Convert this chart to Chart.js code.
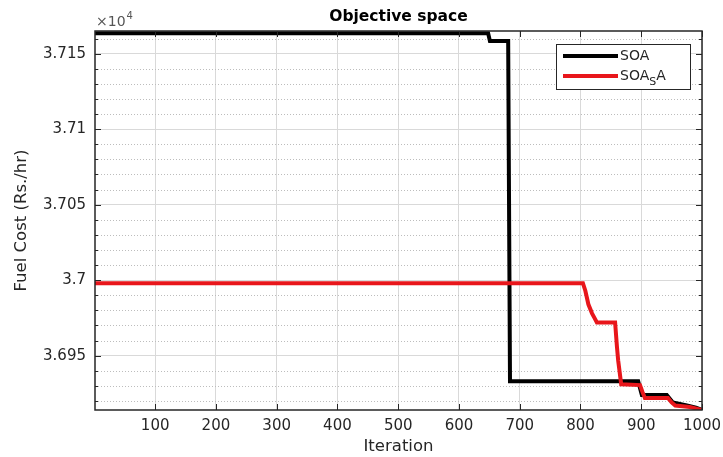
<!DOCTYPE html>
<html>
<head>
<meta charset="utf-8">
<script src="https://cdn.jsdelivr.net/npm/chart.js@4.4.0/dist/chart.umd.min.js"></script>
<style>
  html, body { margin: 0; padding: 0; background: #fff; }
  #wrap { width: 723px; height: 457px; }
</style>
</head>
<body>
<div id="wrap"><canvas id="grafico" width="723" height="457"></canvas></div>
<script>
// dados (custo em Rs./hr)
const iterSOA = [1, 648, 651, 681, 684, 895, 901, 942, 952, 975, 990, 1000];
const custoSOA = [37163.5, 37163.5, 37158.3, 37158.3, 36933, 36933, 36924, 36924, 36919, 36917, 36915.5, 36914];

const iterSOASA = [1, 804, 808, 813, 819, 823, 827, 857, 860, 862, 867, 898, 902, 906, 944, 950, 956, 980, 1000];
const custoSOASA = [36998, 36998, 36993, 36984, 36978, 36975, 36972, 36972, 36956, 36947, 36931, 36930.5, 36926, 36922, 36922, 36919, 36917, 36916, 36914];

const xTicks = [100, 200, 300, 400, 500, 600, 700, 800, 900, 1000];
const yTicks = [36950, 37000, 37050, 37100, 37150];
const yMin = 36914, yMax = 37165;
const passoMenor = 10;

const titulo = 'Objective space';
const rotuloX = 'Iteration';
const rotuloY = 'Fuel Cost (Rs./hr)';

const corEixo = '#262626';
const fonte = '"DejaVu Sans", sans-serif';

function pontos(xs, ys) {
  return xs.map((x, i) => ({ x: x, y: ys[i] }));
}

// grade menor pontilhada + moldura, marcas, textos e legenda no estilo MATLAB
const estiloMatlab = {
  id: 'estiloMatlab',
  beforeDatasetsDraw(chart) {
    const { ctx, chartArea: a, scales } = chart;
    ctx.save();
    ctx.strokeStyle = '#bdbdbd';
    ctx.lineWidth = 1;
    ctx.setLineDash([1, 2]);
    for (let v = Math.ceil(yMin / passoMenor) * passoMenor; v <= yMax; v += passoMenor) {
      if (v % 50 === 0) continue;
      const y = Math.round(scales.y.getPixelForValue(v)) + 0.5;
      ctx.beginPath();
      ctx.moveTo(a.left, y);
      ctx.lineTo(a.right, y);
      ctx.stroke();
    }
    ctx.restore();
  },
  afterDatasetsDraw(chart) {
    const { ctx, chartArea: a, scales } = chart;
    ctx.save();

    // marcas internas
    ctx.strokeStyle = corEixo;
    ctx.lineWidth = 1;
    ctx.beginPath();
    xTicks.forEach(v => {
      const x = Math.round(scales.x.getPixelForValue(v)) + 0.5;
      ctx.moveTo(x, a.bottom); ctx.lineTo(x, a.bottom - 6);
      ctx.moveTo(x, a.top); ctx.lineTo(x, a.top + 6);
    });
    for (let v = Math.ceil(yMin / passoMenor) * passoMenor; v <= yMax; v += passoMenor) {
      const y = Math.round(scales.y.getPixelForValue(v)) + 0.5;
      const len = v % 50 === 0 ? 6 : 3;
      ctx.moveTo(a.left, y); ctx.lineTo(a.left + len, y);
      ctx.moveTo(a.right, y); ctx.lineTo(a.right - len, y);
    }
    ctx.stroke();

    // moldura
    ctx.lineWidth = 1.5;
    ctx.strokeRect(a.left, a.top, a.right - a.left, a.bottom - a.top);

    // título
    ctx.fillStyle = '#000';
    ctx.font = 'bold 15.5px ' + fonte;
    ctx.textAlign = 'center';
    ctx.textBaseline = 'middle';
    ctx.fillText(titulo, (a.left + a.right) / 2, 17);

    // multiplicador
    ctx.fillStyle = '#555';
    ctx.textAlign = 'left';
    ctx.font = '14px ' + fonte;
    ctx.fillText('\u00d710', a.left + 1, 22);
    const w = ctx.measureText('\u00d710').width;
    ctx.font = '10px ' + fonte;
    ctx.fillText('4', a.left + 2 + w, 16);

    // rótulos dos eixos
    ctx.fillStyle = corEixo;
    ctx.font = '16.5px ' + fonte;
    ctx.textAlign = 'center';
    ctx.fillText(rotuloX, (a.left + a.right) / 2, 447);
    ctx.save();
    ctx.translate(22, (a.top + a.bottom) / 2);
    ctx.rotate(-Math.PI / 2);
    ctx.fillText(rotuloY, 0, 0);
    ctx.restore();

    // legenda
    const lx = 556, ly = 44, lw = 134, lh = 45;
    ctx.fillStyle = '#fff';
    ctx.fillRect(lx, ly, lw, lh);
    ctx.strokeStyle = corEixo;
    ctx.lineWidth = 1;
    ctx.strokeRect(lx + 0.5, ly + 0.5, lw, lh);
    const itens = [
      { cor: '#000000', y: ly + 12, nome: 'SOA', sub: null },
      { cor: '#e8161b', y: ly + 32, nome: 'SOA', sub: 'S', fim: 'A' }
    ];
    itens.forEach(it => {
      ctx.strokeStyle = it.cor;
      ctx.lineWidth = 4;
      ctx.beginPath();
      ctx.moveTo(lx + 7, it.y);
      ctx.lineTo(lx + 62, it.y);
      ctx.stroke();
      ctx.fillStyle = corEixo;
      ctx.textAlign = 'left';
      ctx.font = '14px ' + fonte;
      ctx.fillText(it.nome, lx + 64, it.y);
      if (it.sub) {
        let x = lx + 64 + ctx.measureText(it.nome).width;
        ctx.font = '11px ' + fonte;
        ctx.fillText(it.sub, x, it.y + 6);
        x += ctx.measureText(it.sub).width;
        ctx.font = '14px ' + fonte;
        ctx.fillText(it.fim, x, it.y);
      }
    });

    ctx.restore();
  }
};

new Chart(document.getElementById('grafico'), {
  type: 'line',
  data: {
    datasets: [
      {
        label: 'SOA',
        data: pontos(iterSOA, custoSOA),
        borderColor: '#000000',
        borderWidth: 4,
        pointRadius: 0,
        tension: 0,
        clip: 0,
        order: 1
      },
      {
        label: 'SOA_SA',
        data: pontos(iterSOASA, custoSOASA),
        borderColor: '#e8161b',
        borderWidth: 4,
        pointRadius: 0,
        tension: 0,
        clip: 0,
        order: 0
      }
    ]
  },
  options: {
    responsive: false,
    animation: false,
    layout: { padding: { top: 31, right: 21, left: 0, bottom: 0 } },
    plugins: {
      legend: { display: false },
      tooltip: { enabled: false }
    },
    scales: {
      x: {
        type: 'linear',
        min: 1,
        max: 1000,
        afterBuildTicks: s => { s.ticks = xTicks.map(v => ({ value: v })); },
        afterFit: s => { s.height = 47; s.paddingLeft = 0; s.paddingRight = 0; },
        ticks: {
          color: corEixo,
          font: { family: fonte, size: 15 },
          padding: 7,
          maxRotation: 0,
          autoSkip: false,
          callback: v => String(v)
        },
        grid: { color: '#d9d9d9', lineWidth: 1, drawTicks: false },
        border: { display: false }
      },
      y: {
        type: 'linear',
        min: yMin,
        max: yMax,
        afterBuildTicks: s => { s.ticks = yTicks.map(v => ({ value: v })); },
        afterFit: s => { s.width = 95; s.paddingTop = 0; s.paddingBottom = 0; },
        ticks: {
          color: corEixo,
          font: { family: fonte, size: 15 },
          padding: 9,
          callback: v => String(v / 1e4)
        },
        grid: { color: '#d9d9d9', lineWidth: 1, drawTicks: false },
        border: { display: false }
      }
    }
  },
  plugins: [estiloMatlab]
});
</script>
</body>
</html>
